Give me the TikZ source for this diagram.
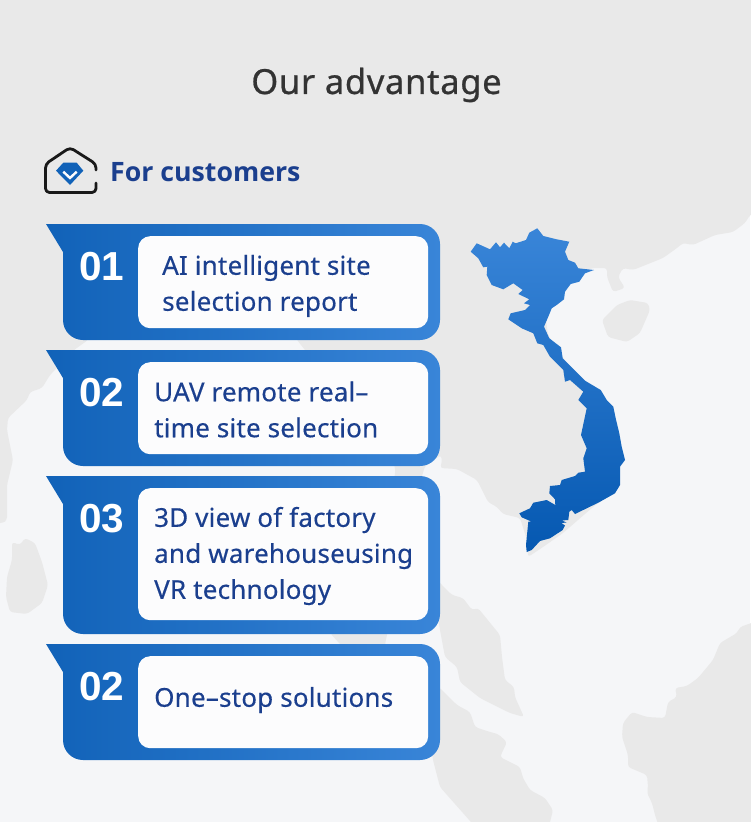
\documentclass[tikz,border=0pt]{standalone}
\usepackage{fontspec}
\setmainfont{Noto Sans}[FakeBold=0.35]
\newfontfamily\numfont{Liberation Sans}
\newfontfamily\headfont{Open Sans}
\definecolor{seacol}{HTML}{F5F6F8}
\definecolor{landcol}{HTML}{E9E9E9}
\definecolor{inkblue}{HTML}{1B3F8E}
\definecolor{cardleft}{HTML}{1162B8}
\definecolor{cardright}{HTML}{3985D8}
\definecolor{mapbottom}{HTML}{0558B1}
\definecolor{boxwhite}{HTML}{FCFCFD}
\tikzset{
  land/.style = {fill=landcol, rounded corners=3pt},
  card/.style = {left color=cardleft, right color=cardright},
  innerbox/.style = {fill=boxwhite, rounded corners=12pt, minimum width=290pt, inner sep=0pt, anchor=north west},
  cardnum/.style = {text=white, anchor=base west, inner sep=0pt, font=\numfont\bfseries\fontsize{40.5}{40}\selectfont},
  cardtext/.style = {text=inkblue, anchor=west, inner sep=0pt, align=left, font=\fontsize{26}{36}\selectfont\addfontfeature{LetterSpace=0.8}}
}

\begin{document}
\begin{tikzpicture}[x=1pt, y=-1pt]
  \useasboundingbox (0,0) rectangle (750,822);
  \fill[seacol] (0,0) rectangle (750,822);

  % mainland
  \path[land] (-10,-10) -- (760,-10) -- (760,210) -- (750,215) -- (745,223) -- (733,232) -- (715,235) -- (693,245) -- (683,243) -- (677,248) -- (663,258) -- (633,270) -- (623,268) -- (618,277) -- (625,288) -- (613,292) -- (607,277) -- (607,268) -- (593,268)
    -- (570,275) -- (555,295) -- (546,320) -- (548,335) -- (558,350) -- (570,368) -- (598,392) -- (608,420) -- (615,480) -- (611,494) -- (593,507) -- (563,533) -- (543,547) -- (528,557) -- (527,540) -- (520,518) -- (503,514) -- (497,507) -- (488,502) -- (477,480) -- (457,469) -- (440,468) -- (442,462) -- (441,455) -- (425,466) -- (422,476)
    -- (385,644) -- (390,700) -- (340,644) -- (330,633) -- (395,476) -- (395,466) -- (305,350) -- (297,340) -- (280,300) -- (100,300) -- (88,340) -- (74,350) -- (50,375) -- (42,388) -- (30,392) -- (27,400) -- (8,418) -- (7,430) -- (13,460) -- (7,485) -- (7,520) -- (3,523) -- (-10,523) -- cycle;
  % islands
  \path[land] (602,320) -- (617,305) -- (630,300) -- (648,303) -- (650,310) -- (640,333) -- (627,342) -- (608,337) -- cycle;
  \path[land] (12,542) -- (20,545) -- (25,538) -- (35,543) -- (42,562) -- (48,585) -- (42,603) -- (27,614) -- (10,612) -- (6,597) -- (7,577) -- (12,560) -- cycle;
  \path[land] (430,570) -- (440,583) -- (452,595) -- (463,598) -- (472,610) -- (478,608) -- (500,635) -- (502,657) -- (505,680) -- (514,687) -- (515,697) -- (524,717) -- (510,713) -- (488,702) -- (480,698) -- (460,682) -- (457,667) -- (445,657) -- (440,630) -- cycle;
  \path[land] (420,680) -- (440,688) -- (457,705) -- (470,712) -- (475,727) -- (490,732) -- (498,734) -- (507,742) -- (500,757) -- (520,767) -- (523,778) -- (530,790) -- (545,798) -- (553,810) -- (548,830) -- (478,830) -- (440,787) -- (433,760) -- cycle;
  \path[land] (760,620) -- (740,627) -- (737,633) -- (720,643) -- (713,660) -- (698,678) -- (687,686) -- (675,688) -- (677,697) -- (668,702) -- (665,718) -- (647,717) -- (632,712) -- (623,723) -- (622,737) -- (628,755) -- (628,767) -- (647,775) -- (648,787) -- (647,793) -- (652,803) -- (655,815) -- (660,830) -- (760,830) -- cycle;

  % country
  \path[top color=cardright, bottom color=mapbottom] (470.7,251.7) -- (476.7,243.3) -- (490,249.3) -- (496,242.3) -- (500,247.3) -- (504,242.7) -- (509.3,248.3) -- (512.7,241.7) -- (515.7,243.3) -- (526,240) -- (529.3,232.7) -- (537.3,228.3) -- (543.3,236) -- (556.7,239.3) -- (569.3,241.7) -- (565,251.7) -- (568.3,260) -- (575,262.7) -- (578.3,268.3) -- (594,270) -- (585,273.3) -- (579.3,281.7) -- (570.7,284) -- (565,291.7) -- (564,299.3) -- (556.7,305) -- (551.7,308.3) -- (548.3,316.7) -- (544,326.7) -- (549.3,338.3) -- (561,347.3) -- (562.7,358.3) -- (575,370.7) -- (585,380.7) -- (600.7,390) -- (606.7,400) -- (613.3,406.7) -- (615.7,418.3) -- (619.3,433.3) -- (621.7,446.7) -- (625,460) -- (620,466.7) -- (620,485) -- (615,493.3) -- (598.3,502.7) -- (590,506.7) -- (575,514) -- (571.7,510) -- (569.3,511.7) -- (568.3,520) -- (562,520.5) -- (566.5,522.5) -- (561.5,523) -- (565,525.5) -- (562.7,530) -- (550,538.3) -- (540,541) -- (531.7,550) -- (526.7,552) -- (526,545) -- (528.3,521.7) -- (531.7,521.7) -- (521.7,517.3) -- (519.3,513.3) -- (530,508.3) -- (533.3,502.7) -- (546.7,500) -- (555.3,505) -- (555,499.3) -- (549.3,493.3) -- (550,486) -- (560,485) -- (561.7,480) -- (575,476) -- (578.3,472.7) -- (585,471.7) -- (583.3,458.3) -- (586.7,448.3) -- (581,435) -- (586.7,408.3) -- (578.3,400) -- (583.3,391.7) -- (570,380) -- (565,381.7) -- (563.3,370) -- (550,356.7) -- (543.3,345) -- (537.3,343.3) -- (533.3,333.3) -- (521.7,328.3) -- (508.3,319.3) -- (510.7,313.3) -- (525,310) -- (530,305) -- (524,303.3) -- (529.3,299.3) -- (518.3,294) -- (522.7,290) -- (513.3,283.3) -- (503.3,289.3) -- (491.7,285) -- (486.7,275) -- (487.3,266.7) -- (483.3,267.3) -- (478.3,258.3) -- cycle;

  % heading
  \node[text=black!80, inner sep=0pt, font=\fontsize{34.5}{34}\selectfont\addfontfeature{LetterSpace=2,FakeBold=0.7}] (title) at (376.5,85) {Our advantage};
  \draw[line width=2.8pt, line cap=round, line join=round, rounded corners=4pt, black!90] (96,170) -- (96,164) -- (70,147.5) -- (45.5,164) -- (45.5,192.5) -- (96,192.5) -- (96,183);
  \fill[cardleft] (63.3,162.7) -- (76.7,162.7) -- (83.3,170.7) -- (70,185) -- (56,170.7) -- cycle;
  \draw[boxwhite, line width=2.4pt] (63.3,171.7) -- (70,178) -- (76.7,171.7);
  \node[text=inkblue, anchor=west, inner sep=0pt, font=\headfont\bfseries\fontsize{26.7}{27}\selectfont] (subtitle) at (110,172) {For customers};

  % cards
  \path[card] (46,224) [rounded corners=20pt] -- (440,224) -- (440,340) -- (63,340) [sharp corners] -- (63,252) -- cycle;
  \node[innerbox, minimum height=92pt] (box1) at (138,236) {};
  \node[cardnum] (num1) at (79,280) {01};
  \node[cardtext] (text1) at (162,286) {AI intelligent site\\selection report};

  \path[card] (46,350) [rounded corners=20pt] -- (440,350) -- (440,466) -- (63,466) [sharp corners] -- (63,378) -- cycle;
  \node[innerbox, minimum height=92pt] (box2) at (138,362) {};
  \node[cardnum] (num2) at (79,406) {02};
  \node[cardtext] (text2) at (154,409.5) {UAV remote real–\\time site selection};

  \path[card] (46,476) [rounded corners=20pt] -- (440,476) -- (440,634) -- (63,634) [sharp corners] -- (63,504) -- cycle;
  \node[innerbox, minimum height=132pt] (box3) at (138,488) {};
  \node[cardnum] (num3) at (79,532) {03};
  \node[cardtext] (text3) at (154,556) {3D view of factory\\and warehouseusing\\VR technology};

  \path[card] (46,644) [rounded corners=20pt] -- (440,644) -- (440,760) -- (63,760) [sharp corners] -- (63,672) -- cycle;
  \node[innerbox, minimum height=92pt] (box4) at (138,656) {};
  \node[cardnum] (num4) at (79,700) {02};
  \node[cardtext] (text4) at (154,700) {One–stop solutions};
\end{tikzpicture}
\end{document}
